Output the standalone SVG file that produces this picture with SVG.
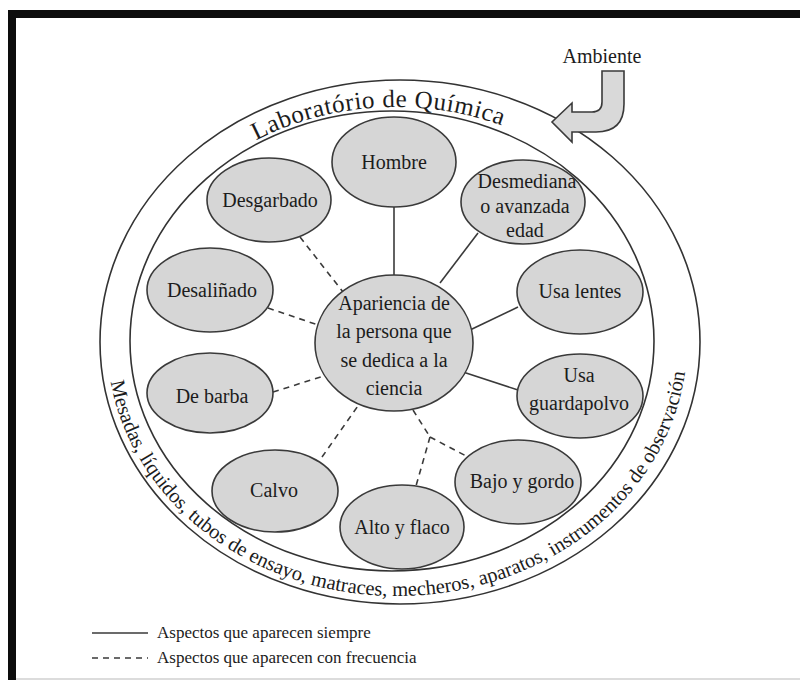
<svg xmlns="http://www.w3.org/2000/svg" width="800" height="680" viewBox="0 0 800 680">
  <defs>
    <style>
      .ring { fill: none; stroke: #333; stroke-width: 1.6; }
      .node ellipse { fill: #d6d6d6; stroke: #3a3a3a; stroke-width: 1.6; }
      .lbl { font-family: "Liberation Serif", "DejaVu Serif", serif; font-size: 20px; fill: #1c1c1c; text-anchor: middle; }
      .arc { font-family: "Liberation Serif", "DejaVu Serif", serif; fill: #1c1c1c; }
      .solid { stroke: #3a3a3a; stroke-width: 1.6; fill: none; }
      .dash { stroke: #3a3a3a; stroke-width: 1.6; fill: none; stroke-dasharray: 6 5; }
      .legend { font-family: "Liberation Serif", "DejaVu Serif", serif; font-size: 17px; fill: #1c1c1c; }
    </style>
    <!-- baseline for the lab title, over the top of the ring -->
    <path id="topArc" d="M 124 341 A 272 234 0 0 1 668 341"/>
    <!-- baseline for the equipment list, under the bottom of the ring -->
    <path id="bottomArc" d="M 107 342 A 290 254 0 0 0 687 342"/>
  </defs>

  <rect width="800" height="680" fill="#ffffff"/>

  <!-- page frame -->
  <g id="frame">
    <rect x="8" y="10" width="792" height="8" fill="#0d0d0d"/>
    <rect x="8" y="10" width="8" height="670" fill="#0d0d0d"/>
    <line x1="16" y1="679" x2="800" y2="679" stroke="#d0d0d0" stroke-width="1.5"/>
  </g>

  <!-- laboratory ring -->
  <g id="ring">
    <ellipse class="ring" cx="400" cy="342" rx="300" ry="262"/>
    <ellipse class="ring" cx="392" cy="341" rx="262" ry="230"/>
    <text class="arc" font-size="25" letter-spacing="0.6" text-anchor="middle">
      <textPath href="#topArc" startOffset="47.7%">Laboratório de Química</textPath>
    </text>
    <text class="arc" font-size="20.5">
      <textPath href="#bottomArc" startOffset="40">Mesadas, líquidos, tubos de ensayo, matraces, mecheros, aparatos, instrumentos de observación</textPath>
    </text>
  </g>

  <!-- environment arrow -->
  <g id="ambiente">
    <text x="602" y="63" font-family="Liberation Serif, DejaVu Serif, serif" font-size="20" fill="#1c1c1c" text-anchor="middle">Ambiente</text>
    <path d="M 602 71 L 624 71 L 624 104 Q 624 132 596 132 L 572 132 L 572 142 L 552 122 L 572 103 L 572 112 L 592 112 Q 602 112 602 102 Z" fill="#d9d9d9" stroke="#3a3a3a" stroke-width="1.6" stroke-linejoin="miter"/>
  </g>

  <!-- connectors -->
  <g id="connectors">
    <line class="solid" x1="394" y1="207" x2="394" y2="275"/>
    <line class="solid" x1="478" y1="233" x2="440" y2="283"/>
    <line class="solid" x1="470" y1="330" x2="518" y2="307"/>
    <line class="solid" x1="463" y1="372" x2="518" y2="390"/>
    <line class="dash" x1="300" y1="237" x2="343" y2="292"/>
    <line class="dash" x1="268" y1="308" x2="318" y2="325"/>
    <line class="dash" x1="273" y1="392" x2="327" y2="375"/>
    <line class="dash" x1="322" y1="457" x2="360" y2="403"/>
    <line class="dash" x1="413" y1="410" x2="430" y2="437"/>
    <line class="dash" x1="430" y1="437" x2="468" y2="457"/>
    <line class="dash" x1="430" y1="437" x2="416" y2="486"/>
  </g>

  <!-- nodes -->
  <g id="n-hombre" class="node">
    <ellipse cx="394" cy="162" rx="62" ry="45"/>
    <text class="lbl" x="394" y="169">Hombre</text>
  </g>
  <g id="n-desgarbado" class="node">
    <ellipse cx="269" cy="200" rx="62" ry="42"/>
    <text class="lbl" x="270" y="207">Desgarbado</text>
  </g>
  <g id="n-edad" class="node">
    <ellipse cx="523" cy="202" rx="62" ry="42"/>
    <text class="lbl" x="527" y="188">Desmediana</text>
    <text class="lbl" x="525" y="213">o avanzada</text>
    <text class="lbl" x="525" y="237">edad</text>
  </g>
  <g id="n-desalinado" class="node">
    <ellipse cx="210" cy="290" rx="63" ry="42"/>
    <text class="lbl" x="212" y="297">Desaliñado</text>
  </g>
  <g id="n-lentes" class="node">
    <ellipse cx="580" cy="292" rx="63" ry="42"/>
    <text class="lbl" x="580" y="298">Usa lentes</text>
  </g>
  <g id="n-barba" class="node">
    <ellipse cx="210" cy="393" rx="63" ry="40"/>
    <text class="lbl" x="212" y="403">De barba</text>
  </g>
  <g id="n-guardapolvo" class="node">
    <ellipse cx="580" cy="396" rx="63" ry="42"/>
    <text class="lbl" x="579" y="382">Usa</text>
    <text class="lbl" x="579" y="410">guardapolvo</text>
  </g>
  <g id="n-calvo" class="node">
    <ellipse cx="275" cy="491" rx="63" ry="41"/>
    <text class="lbl" x="274" y="497">Calvo</text>
  </g>
  <g id="n-bajo" class="node">
    <ellipse cx="518" cy="482" rx="63" ry="42"/>
    <text class="lbl" x="522" y="488">Bajo y gordo</text>
  </g>
  <g id="n-alto" class="node">
    <ellipse cx="402" cy="527" rx="62" ry="42"/>
    <text class="lbl" x="402" y="534">Alto y flaco</text>
  </g>
  <g id="n-apariencia" class="node">
    <ellipse cx="394" cy="343" rx="79" ry="68"/>
    <text class="lbl" x="394" y="310">Apariencia de</text>
    <text class="lbl" x="394" y="338">la persona que</text>
    <text class="lbl" x="394" y="367">se dedica a la</text>
    <text class="lbl" x="394" y="395">ciencia</text>
  </g>

  <!-- legend -->
  <g id="legend">
    <line class="solid" x1="92" y1="633" x2="148" y2="633"/>
    <line class="dash" x1="92" y1="658" x2="148" y2="658"/>
    <text class="legend" x="157" y="638">Aspectos que aparecen siempre</text>
    <text class="legend" x="157" y="663">Aspectos que aparecen con frecuencia</text>
  </g>
</svg>
